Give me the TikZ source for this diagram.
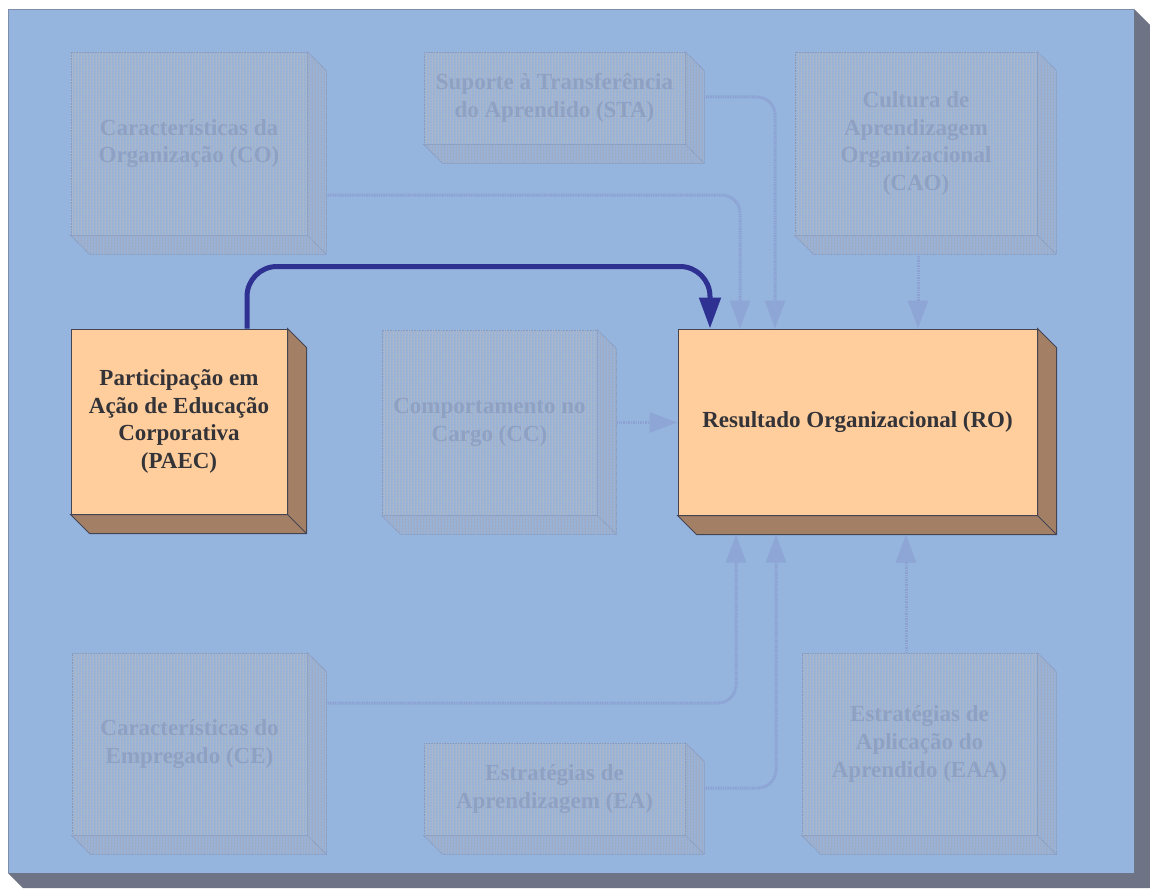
\documentclass[tikz,border=0pt]{standalone}
\usepackage{fontspec}
\setmainfont{Liberation Serif}
\usetikzlibrary{arrows.meta,patterns,calc}

\definecolor{panelface}{HTML}{95B4DE}
\definecolor{panelside}{HTML}{6E7485}
\definecolor{boxface}{HTML}{FFCE9C}
\definecolor{boxside}{HTML}{A37F66}
\definecolor{edgegrey}{HTML}{454552}
\definecolor{textgrey}{HTML}{333338}
\definecolor{ghostfill}{HTML}{99B3D8}
\definecolor{ghostgrid}{HTML}{AAB6CA}
\definecolor{ghostedge}{HTML}{8799BD}
\definecolor{ghosttext}{HTML}{8FA1C3}
\definecolor{ghostline}{HTML}{8CA1D2}
\definecolor{mainblue}{HTML}{2E3192}

\tikzset{
  x=1pt, y=-1pt,
  label font/.style={font=\bfseries\fontsize{23}{27.6}\selectfont},
  hibox/.style={label font, draw=edgegrey, line width=1pt, fill=boxface,
    text=textgrey, align=center, inner sep=0pt},
  hiside/.style={draw=edgegrey, line width=1pt, fill=boxside, line join=miter},
  ghostbox/.style={label font, draw=ghostedge, line width=0.8pt,
    dash pattern=on 0.8pt off 0.8pt, preaction={fill=ghostfill},
    pattern=grid, pattern color=ghostgrid, text=ghosttext,
    align=center, inner sep=0pt},
  ghostside/.style={draw=ghostedge, line width=0.8pt, dash pattern=on 0.8pt off 0.8pt,
    preaction={fill=ghostfill}, pattern=grid, pattern color=ghostedge!35!ghostgrid},
  ghostarrow/.style={draw=ghostline, line width=3pt, dash pattern=on 1pt off 0.7pt,
    rounded corners=18pt,
    -{Triangle[width=20pt,length=28pt,fill=ghostline!75!panelface,color=ghostline!75!panelface]}},
  mainarrow/.style={draw=mainblue, line width=5pt, rounded corners=30pt,
    -{Triangle[width=21pt,length=31pt]}},
}

% right and bottom faces of a box node, offset down-right by #2
\newcommand\extrude[3]{%
  \path[#3] (#1.north east) -- ++(#2,#2) -- ($(#1.south east)+(#2,#2)$)
    -- ($(#1.south west)+(#2,#2)$) -- (#1.south west) -- (#1.south east) -- cycle;
  \path[#3] (#1.south east) -- ++(#2,#2);
}

\begin{document}
\begin{tikzpicture}
\useasboundingbox (0,0) rectangle (1150,888);

% panel with its shadow
\fill[panelside] (1134,9) -- (1150,25) -- (1150,888) -- (23,888) -- (8,873) -- (1134,873) -- cycle;
\fill[panelface] (8,9) rectangle (1134,873);
\draw[panelside!60!panelface, line width=0.6pt] (8,873) -- (8,9) -- (1134,9);

% faded boxes
\node[ghostbox, minimum width=236pt, minimum height=183pt] (co) at (189,143.5)
  {Características da\\Organização (CO)};
\extrude{co}{19}{ghostside}
\node[ghostbox, minimum width=261pt, minimum height=92pt] (sta) at (554.5,98)
  {Suporte à Transferência\\do Aprendido (STA)};
\extrude{sta}{19}{ghostside}
\node[ghostbox, minimum width=242pt, minimum height=183pt] (cao) at (916,143.5)
  {Cultura de\\Aprendizagem\\Organizacional\\(CAO)};
\extrude{cao}{19}{ghostside}
\node[ghostbox, minimum width=215pt, minimum height=185pt] (cc) at (489.5,422.5)
  {Comportamento no\\Cargo (CC)};
\extrude{cc}{19}{ghostside}
\node[ghostbox, minimum width=235pt, minimum height=182pt] (ce) at (189.5,744)
  {Características do\\Empregado (CE)};
\extrude{ce}{19}{ghostside}
\node[ghostbox, minimum width=261pt, minimum height=92pt] (ea) at (554.5,789)
  {Estratégias de\\Aprendizagem (EA)};
\extrude{ea}{19}{ghostside}
\node[ghostbox, minimum width=235pt, minimum height=182pt] (eaa) at (919.5,744)
  {Estratégias de\\Aplicação do\\Aprendido (EAA)};
\extrude{eaa}{19}{ghostside}

% highlighted boxes
\node[hibox, minimum width=216pt, minimum height=185pt] (paec) at (179,421.5)
  {Participação em\\Ação de Educação\\Corporativa\\(PAEC)};
\extrude{paec}{19}{hiside}
\node[hibox, minimum width=359pt, minimum height=186pt] (ro) at (857.5,422)
  {Resultado Organizacional (RO)};
\extrude{ro}{19}{hiside}

% faded connectors
\coordinate (robase) at ([yshift=-19pt]ro.south);
\draw[ghostarrow] ([xshift=19pt,yshift=-51.5pt]co.east) -| ([xshift=-117.5pt]ro.north);
\draw[ghostarrow] ([xshift=19pt,yshift=1pt]sta.east) -| ([xshift=-82.5pt]ro.north);
\coordinate (caoout) at ([xshift=2pt,yshift=-19pt]cao.south);
\draw[ghostarrow] (caoout) -- (caoout |- ro.north);
\draw[ghostarrow] ([xshift=20pt]cc.east) -- (ro.west |- cc.east);
\draw[ghostarrow] ([xshift=19pt,yshift=41pt]ce.east) -| ([xshift=-121.5pt]robase);
\draw[ghostarrow] ([xshift=19pt,yshift=1pt]ea.east) -| ([xshift=-81.5pt]robase);
\coordinate (eaaout) at ([xshift=-13.5pt]eaa.north);
\draw[ghostarrow] (eaaout) -- (eaaout |- robase);

% highlighted connector
\draw[mainarrow] ([xshift=68pt]paec.north) -- ++(0,-62) -| ([xshift=-147.5pt]ro.north);
\end{tikzpicture}
\end{document}
